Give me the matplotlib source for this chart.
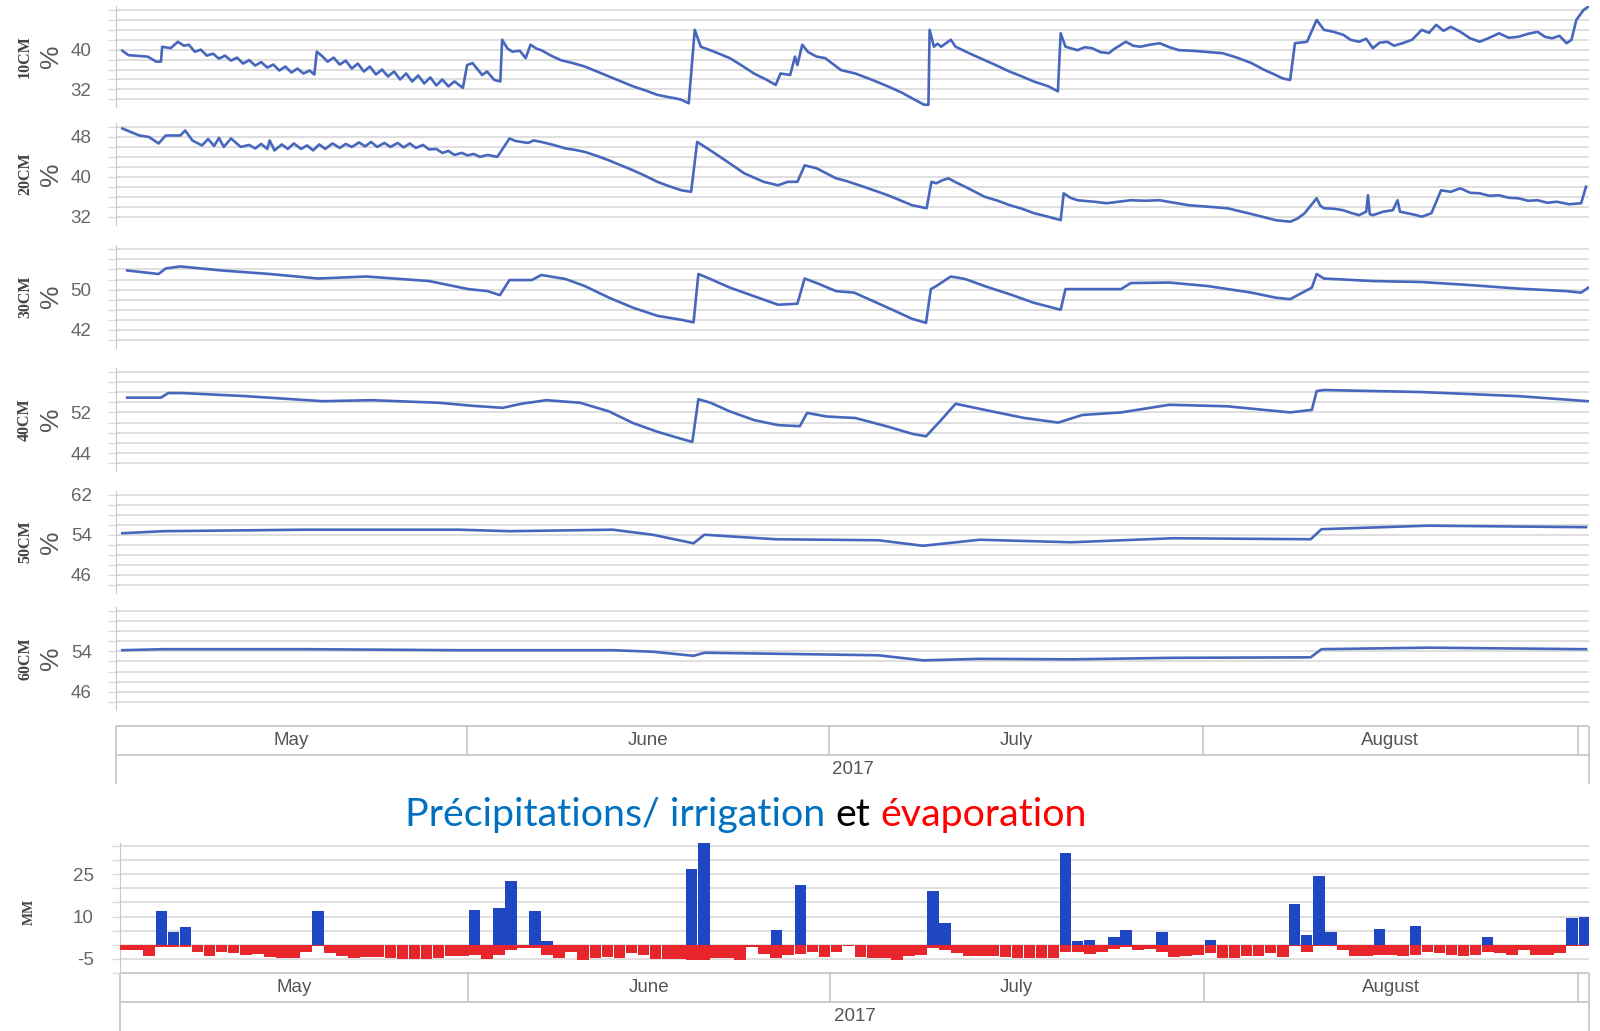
import matplotlib
matplotlib.use("Agg")
import matplotlib.pyplot as plt
import numpy as np

# ---------------- data (days counted from 1 May 2017 = 0) ----------------
day10 = [2.5, 3.0, 4.6, 5.3, 5.7, 5.8, 6.5, 7.1, 7.6, 8.0, 8.5, 9.0, 9.5, 10.0, 10.5, 11.0, 11.5, 12.0,
         12.5, 13.0, 13.5, 14.0, 14.5, 15.0, 15.5, 16.0, 16.5, 17.0, 17.5, 18.0, 18.4, 18.6, 19.0, 19.5,
         20.0, 20.5, 21.0, 21.5, 22.0, 22.5, 23.0, 23.5, 24.0, 24.5, 25.0, 25.5, 26.0, 26.5, 27.0, 27.5,
         28.0, 28.5, 29.0, 29.5, 30.0, 30.7, 31.05, 31.5, 32.3, 32.7, 33.3, 33.8, 33.95, 34.4, 34.8, 35.4,
         35.9, 36.3, 36.8, 37.2, 38.0, 38.8, 39.8, 40.8, 41.8, 42.8, 43.8, 44.8, 45.8, 46.8, 47.8, 48.3,
         48.8, 49.4, 49.9, 50.4, 51.5, 52.8, 53.8, 54.8, 55.8, 56.6, 57.0, 57.8, 58.2, 58.4, 58.8, 59.3,
         60.0, 60.7, 62.0, 63.2, 64.5, 65.9, 67.0, 67.9, 68.9, 69.25, 69.35, 69.7, 70.0, 70.3, 70.7, 71.1,
         71.5, 72.7, 73.9, 75.0, 75.96, 77.0, 77.96, 79.2, 79.97, 80.2, 80.6, 81.6, 82.2, 82.8, 83.5, 84.2,
         84.6, 85.6, 86.2, 86.8, 87.6, 88.4, 89.2, 90.0, 91.0, 92.0, 93.6, 94.8, 96.0, 97.0, 98.0, 98.6,
         99.2, 99.6, 100.6, 101.4, 102.0, 102.8, 103.6, 104.2, 104.9, 105.5, 106.05, 106.6, 107.25, 107.8,
         108.5, 109.3, 110.1, 110.7, 111.3, 111.9, 112.5, 113.3, 114.1, 114.9, 115.7, 116.5, 117.3, 118.1,
         118.9, 119.7, 120.3, 120.9, 121.5, 122.1, 122.5, 122.9, 123.5, 123.9]
m10 = [39.8, 38.9, 38.6, 37.6, 37.6, 40.6, 40.3, 41.6, 40.8, 41.0, 39.6, 40.0, 38.8, 39.2, 38.2, 38.8, 37.8, 38.4,
       37.2, 37.9, 36.8, 37.5, 36.4, 37.0, 35.8, 36.6, 35.4, 36.2, 35.2, 35.8, 35.0, 39.6, 38.8, 37.6,
       38.4, 37.0, 37.8, 36.2, 37.2, 35.6, 36.6, 35.0, 36.0, 34.6, 35.6, 34.0, 35.2, 33.6, 34.8, 33.2,
       34.4, 32.8, 34.0, 32.6, 33.6, 32.3, 36.9, 37.3, 34.9, 35.6, 33.9, 33.6, 42.0, 40.2, 39.6, 39.8,
       38.3, 41.0, 40.2, 39.9, 38.8, 37.9, 37.3, 36.6, 35.6, 34.6, 33.6, 32.6, 31.8, 30.9, 30.4, 30.2,
       29.9, 29.2, 44.0, 40.6, 39.6, 38.3, 36.8, 35.2, 34.0, 32.9, 35.2, 34.9, 38.6, 36.9, 41.0, 39.5,
       38.6, 38.3, 35.9, 35.2, 34.0, 32.6, 31.4, 30.2, 28.9, 28.9, 44.0, 40.6, 41.2, 40.6, 41.3, 42.0,
       40.6, 39.2, 37.9, 36.7, 35.6, 34.6, 33.6, 32.6, 31.6, 43.3, 40.6, 39.9, 40.5, 40.3, 39.5, 39.3,
       40.1, 41.6, 40.8, 40.6, 41.0, 41.3, 40.5, 39.9, 39.8, 39.6, 39.3, 38.4, 37.3, 36.0, 34.9, 34.2,
       33.9, 41.3, 41.6, 46.0, 44.0, 43.6, 43.0, 42.0, 41.6, 42.2, 40.3, 41.4, 41.6, 40.8,
       41.3, 42.0, 44.0, 43.4, 45.0, 43.8, 44.6, 43.6, 42.3, 41.6, 42.4, 43.3, 42.4, 42.6,
       43.2, 43.6, 42.6, 42.3, 42.8, 41.3, 42.0, 46.0, 48.0, 48.7]

day20 = [2.5, 3.9, 4.7, 5.5, 6.1, 7.3, 7.7, 8.3, 9.1, 9.6, 10.1, 10.5, 10.9, 11.5, 12.3, 13.0, 13.5, 14.0,
         14.5, 14.7, 15.1, 15.7, 16.2, 16.7, 17.3, 17.8, 18.3, 18.8, 19.3, 19.9, 20.5, 21.0, 21.5, 22.1,
         22.6, 23.1, 23.6, 24.2, 24.7, 25.3, 25.8, 26.3, 26.8, 27.4, 27.9, 28.5, 29.0, 29.5, 30.0, 30.6,
         31.1, 31.6, 32.1, 32.75, 33.55, 34.56, 35.05, 35.55, 36.1, 36.56, 37.2, 38.2, 39.2, 40.0, 40.8,
         41.8, 42.8, 43.8, 44.8, 45.8, 46.8, 47.8, 48.8, 49.6, 50.1, 51.2, 52.0, 52.8, 54.0, 55.6, 56.8,
         57.6, 58.4, 59.0, 60.0, 61.6, 62.4, 63.9, 65.9, 67.9, 69.1, 69.5, 69.9, 70.4, 70.9, 71.6, 72.3,
         73.9, 75.0, 76.0, 77.0, 78.0, 79.0, 80.2, 80.45, 81.0, 81.6, 83.0, 84.0, 85.0, 86.0, 87.2, 88.4,
         89.6, 90.8, 92.4, 94.0, 95.2, 96.4, 98.0, 99.2, 99.8, 100.4, 101.4, 101.7, 102.0, 102.8, 103.6,
         104.2, 104.9, 105.5, 105.65, 105.8, 106.05, 106.9, 107.7, 108.1, 108.3, 108.9, 109.5, 110.1,
         110.9, 111.7, 112.5, 113.3, 114.1, 114.9, 115.7, 116.5, 117.3, 118.1, 118.9, 119.7, 120.5,
         121.3, 122.3, 123.3, 123.7]
m20 = [49.7, 48.3, 48.0, 46.7, 48.3, 48.3, 49.3, 47.3, 46.3, 47.6, 46.2, 47.8, 46.0, 47.7, 46.0, 46.4, 45.7, 46.6,
       45.6, 47.3, 45.3, 46.5, 45.6, 46.7, 45.6, 46.3, 45.3, 46.5, 45.6, 46.7, 45.8, 46.6, 46.0, 46.9,
       46.1, 47.0, 46.0, 46.8, 46.0, 46.8, 45.9, 46.7, 45.8, 46.4, 45.5, 45.6, 44.8, 45.2, 44.4, 44.8,
       44.3, 44.6, 44.0, 44.4, 44.0, 47.7, 47.2, 47.0, 46.8, 47.3, 47.0, 46.4, 45.7, 45.4, 45.0,
       44.2, 43.3, 42.3, 41.3, 40.2, 39.0, 38.1, 37.3, 37.0, 47.0, 45.3, 44.0, 42.7, 40.7, 39.0, 38.3,
       39.0, 39.0, 42.3, 41.7, 39.7, 39.2, 38.0, 36.3, 34.3, 33.7, 39.0, 38.7, 39.3, 39.7, 38.8, 38.0,
       36.0, 35.2, 34.3, 33.6, 32.7, 32.1, 31.3, 36.7, 35.8, 35.3, 35.0, 34.7, 35.0, 35.3, 35.2, 35.3,
       34.8, 34.3, 34.0, 33.7, 33.0, 32.3, 31.3, 31.0, 31.6, 32.7, 35.7, 34.2, 33.7, 33.6, 33.3,
       32.8, 32.3, 33.0, 36.3, 32.5, 32.3, 33.0, 33.3, 35.3, 33.0, 32.7, 32.4, 32.0,
       32.7, 37.3, 37.0, 37.7, 36.8, 36.7, 36.2, 36.3, 35.8, 35.7, 35.2, 35.3, 34.8,
       35.0, 34.5, 34.7, 38.0]

day30 = [2.9, 5.5, 6.1, 7.3, 10.7, 14.7, 18.7, 22.7, 27.9, 31.15, 32.75, 33.76, 34.56, 36.4, 37.2, 39.2,
         40.8, 42.8, 44.8, 46.8, 48.8, 49.8, 50.2, 51.2, 52.8, 54.8, 56.8, 58.4, 59.0, 60.0, 61.6, 63.1,
         65.9, 67.9, 69.05, 69.45, 69.9, 71.1, 72.3, 73.9, 75.96, 77.96, 80.2, 80.6, 82.0, 85.2, 86.0,
         89.2, 92.4, 96.0, 98.0, 99.2, 101.0, 101.4, 102.0, 106.05, 110.1, 114.1, 118.1, 122.1, 123.3, 123.9]
m30 = [53.8, 53.1, 54.2, 54.6, 53.8, 53.1, 52.2, 52.6, 51.7, 50.1, 49.7, 48.9, 51.9, 51.9, 52.9, 52.1,
       50.7, 48.4, 46.4, 44.8, 44.0, 43.5, 53.1, 52.1, 50.4, 48.7, 47.0, 47.2, 52.2, 51.3, 49.7, 49.4,
       46.4, 44.2, 43.4, 50.1, 50.7, 52.6, 52.1, 50.7, 49.1, 47.4, 46.0, 50.1, 50.1, 50.1, 51.3,
       51.4, 50.7, 49.4, 48.4, 48.1, 50.4, 53.1, 52.2, 51.7, 51.5, 50.9, 50.2, 49.7, 49.4, 50.4]

day40 = [2.9, 5.7, 6.3, 7.5, 12.7, 19.1, 23.1, 28.7, 31.5, 34.0, 35.55, 37.6, 40.4, 42.8, 44.8, 46.8,
         48.8, 49.7, 50.2, 51.2, 52.8, 54.8, 56.8, 58.6, 59.2, 60.8, 63.2, 65.9, 67.9, 69.05, 70.3, 71.5,
         73.9, 77.2, 80.0, 82.0, 85.2, 89.2, 94.0, 99.2, 101.0, 101.4, 102.0, 110.1, 118.1, 123.9]
m40 = [54.9, 54.9, 55.8, 55.8, 55.2, 54.2, 54.4, 53.9, 53.3, 52.9, 53.7, 54.4, 53.9, 52.2, 49.9, 48.2,
       46.8, 46.2, 54.6, 53.9, 52.2, 50.5, 49.5, 49.3, 51.9, 51.2, 50.9, 49.2, 47.8, 47.3, 50.5, 53.7,
       52.5, 50.9, 50.0, 51.5, 52.0, 53.5, 53.2, 52.0, 52.5, 56.2, 56.4, 56.0, 55.2, 54.2]

day50 = [2.5, 5.9, 17.7, 30.4, 34.6, 43.1, 46.4, 49.8, 50.7, 56.6, 65.1, 68.8, 73.5, 81.1, 89.5, 100.9,
         101.8, 110.6, 123.7]
m50 = [54.3, 54.7, 55.0, 55.0, 54.7, 55.0, 54.0, 52.3, 54.0, 53.1, 52.9, 51.8, 53.0, 52.5, 53.3, 53.1,
       55.1, 55.8, 55.5]

day60 = [2.5, 5.9, 17.7, 30.4, 43.1, 46.4, 49.8, 50.7, 56.6, 65.1, 68.8, 73.5, 81.1, 89.5, 100.9,
         101.8, 110.6, 123.7]
m60 = [54.2, 54.4, 54.4, 54.2, 54.2, 53.9, 53.1, 53.7, 53.5, 53.2, 52.2, 52.5, 52.4, 52.7, 52.8,
       54.4, 54.7, 54.4]

ticks10 = [32, 40]
ticks20 = [32, 40, 48]
ticks30 = [42, 50]
ticks40 = [44, 52]
ticks50 = [46, 54, 62]
ticks60 = [46, 54]
depth_labels = ["10CM", "20CM", "30CM", "40CM", "50CM", "60CM"]

rain_day = [5, 6, 7, 18, 31, 33, 34, 36, 37, 49, 50, 56, 58, 69, 70, 80, 81, 82, 84, 85, 88, 92,
            99, 100, 101, 102, 106, 109, 115, 122, 123]
rain_mm = [12.1, 4.7, 6.2, 12.1, 12.4, 12.9, 22.7, 11.8, 1.2, 26.7, 36.0, 5.3, 21.2, 19.2, 7.6, 32.4,
           1.2, 1.8, 2.7, 5.1, 4.7, 1.8, 14.5, 3.5, 24.4, 4.7, 5.5, 6.7, 2.7, 9.4, 10.0]

evap_first_day = 2
evap_mm = [-2.0, -2.0, -3.9, -0.8, -0.8, -0.8, -2.7, -4.1, -2.4, -2.9, -3.5, -3.2, -4.4, -4.7, -4.7,
           -2.7, -0.6, -2.9, -3.9, -4.7, -4.4, -4.4, -4.7, -5.1, -5.1, -5.1, -4.7, -3.9, -4.1, -3.5,
           -5.1, -3.5, -2.0, -1.2, -1.2, -3.5, -4.7, -2.4, -5.3, -4.7,
           -4.4, -4.7, -2.9, -3.5, -5.1, -5.1, -5.1, -5.3, -5.5, -4.7, -4.7, -5.3, -0.8, -3.2, -4.7,
           -3.5, -3.2, -2.7, -4.4, -2.4, -0.4, -4.4, -4.7, -4.7, -5.3, -4.1, -3.5, -1.2, -1.8, -2.9,
           -4.1, -4.1, -4.1, -4.4, -4.7, -4.7, -4.7, -4.7, -2.4, -2.4, -3.2,
           -2.4, -1.5, -0.8, -1.8, -1.5, -2.4, -4.4, -4.1, -3.5, -2.9, -4.7, -4.7, -4.1, -4.1, -2.9,
           -4.4, -0.4, -2.4, -0.4, -0.4, -1.8, -4.1, -4.1, -3.5, -3.5, -4.1, -3.5, -2.7, -2.9, -3.5,
           -3.9, -3.5, -2.4, -2.9, -3.5, -1.8, -3.5, -3.5, -2.9, -0.6, -0.6]
bar_ticks = [-5, 10, 25]

month_names = ["May", "June", "July", "August"]
month_start = [0, 31, 61, 92, 123]
year_label = "2017"

title_parts = ["Précipitations/ irrigation", "et", "évaporation"]

# ---------------- styling / layout ----------------
W, H = 1600, 1031
fig = plt.figure(figsize=(16, 10.31), dpi=100)
fig.patch.set_facecolor("white")

GRID = "#dcdcdc"
AXIS = "#c8c8c8"
LINE = "#4767bd"
TXT = "#666666"
SANS = ["Liberation Sans", "DejaVu Sans"]
SERIF = ["Liberation Serif", "DejaVu Serif"]


def rect(x0, y0, x1, y1):
    return [x0 / W, 1 - y1 / H, (x1 - x0) / W, (y1 - y0) / H]


X0, X1 = 116.3, 1589.0
XMIN, XMAX = 2.0, 123.95
PX = 0.72  # points per pixel

panels = [
    (depth_labels[0], day10, m10, 30, 48, ticks10, 10.0, 99.3),
    (depth_labels[1], day20, m20, 32, 50, ticks20, 127.0, 216.7),
    (depth_labels[2], day30, m30, 40, 58, ticks30, 249.3, 340.0),
    (depth_labels[3], day40, m40, 42, 60, ticks40, 371.7, 463.3),
    (depth_labels[4], day50, m50, 44, 62, ticks50, 494.5, 585.0),
    (depth_labels[5], day60, m60, 44, 62, ticks60, 610.6, 702.0),
]

for name, dd, vv, lo, hi, tl, yt, yb in panels:
    scale = (yb - yt) / (hi - lo)
    top_px, bot_px = yt - 4, yb + 8
    ax = fig.add_axes(rect(X0, top_px, X1, bot_px))
    ax.set_xlim(XMIN, XMAX)
    ax.set_ylim(lo - 8 / scale, hi + 4 / scale)
    grid = np.arange(lo, hi + 1, 2)
    ax.set_yticks(grid)
    ax.set_yticklabels([str(g) if g in tl else "" for g in grid], family=SANS)
    ax.tick_params(axis="y", length=8 * PX, color=GRID, width=1.0, labelsize=13.5,
                   labelcolor=TXT, pad=12)
    ax.grid(axis="y", color=GRID, lw=1.3)
    ax.set_xticks([])
    for s in ["top", "right", "bottom"]:
        ax.spines[s].set_visible(False)
    ax.spines["left"].set_color(AXIS)
    ax.set_axisbelow(True)
    ax.plot(dd, vv, color=LINE, lw=1.9, solid_joinstyle="round")
    cy = (top_px + bot_px) / 2
    fig.text(25 / W, 1 - cy / H, name, rotation=90, ha="center", va="center",
             family=SERIF, weight="bold", fontsize=11.5, color="#444444")
    fig.text(51 / W, 1 - cy / H, "%", rotation=90, ha="center", va="center",
             family=SANS, fontsize=19, color="#555555")


def date_strip(x0, y0, y1, xmin, xmax):
    ax = fig.add_axes(rect(x0, y0, X1, y1))
    ax.set_xlim(xmin, xmax)
    ax.set_ylim(0, 2)
    ax.axis("off")
    kw = dict(color=AXIS, lw=1.3, clip_on=False, solid_capstyle="butt")
    ax.plot([xmin, xmax], [2, 2], **kw)
    ax.plot([xmin, xmax], [1, 1], **kw)
    ax.plot([xmin, xmin], [0, 2], **kw)
    ax.plot([xmax, xmax], [0, 2], **kw)
    for s in month_start:
        if xmin < s < xmax:
            ax.plot([s, s], [1, 2], **kw)
    for i, nm in enumerate(month_names):
        a = max(month_start[i], xmin)
        b = min(month_start[i + 1], xmax)
        ax.text((a + b) / 2, 1.5, nm, ha="center", va="center", family=SANS,
                fontsize=13.5, color="#555555")
    ax.text((xmin + xmax) / 2, 0.5, year_label, ha="center", va="center", family=SANS,
            fontsize=13.5, color="#555555")


date_strip(X0, 725.5, 784.0, XMIN, XMAX)

# ---------------- bar chart ----------------
BX0 = 120.0
BXMIN = 2.13
bax = fig.add_axes(rect(BX0, 843.0, X1, 973.0))
bax.set_xlim(BXMIN, XMAX)
bax.set_ylim(-10, 36.05)
evap_days = np.arange(evap_first_day, evap_first_day + len(evap_mm))
bax.bar(evap_days + 0.55, evap_mm, width=0.97, color="#e8252a", linewidth=0, zorder=3)
bax.bar(np.array(rain_day) + 0.55, rain_mm, width=0.94, color="#1f47c4", linewidth=0, zorder=3)
bgrid = np.arange(-10, 36, 5)
bax.set_yticks(bgrid)
bax.set_yticklabels([str(g) if g in bar_ticks else "" for g in bgrid], family=SANS)
bax.tick_params(axis="y", length=8 * PX, color=GRID, width=1.0, labelsize=13.5,
                labelcolor=TXT, pad=13)
bax.grid(axis="y", color=GRID, lw=1.3)
bax.set_axisbelow(True)
bax.set_xticks([])
for s in ["top", "right", "bottom"]:
    bax.spines[s].set_visible(False)
bax.spines["left"].set_color(AXIS)
fig.text(29 / W, 1 - 912 / H, "MM", rotation=90, ha="center", va="center",
         family=SERIF, weight="bold", fontsize=10, color="#444444")

date_strip(BX0, 972.5, 1031.0, BXMIN, XMAX)

# ---------------- title (three colours) ----------------
TFONT = ["Lato", "DejaVu Sans"]
r = fig.canvas.get_renderer()


def tw(s, fs):
    t = fig.text(0, 0, "|" + s + "|", fontsize=fs, family=TFONT)
    t2 = fig.text(0, 0, "||", fontsize=fs, family=TFONT)
    w = t.get_window_extent(r).width - t2.get_window_extent(r).width
    t.remove()
    t2.remove()
    return w


full = title_parts[0] + " " + title_parts[1] + " " + title_parts[2]
target_w = 1085 - 405
fs = 26.0 * target_w / tw(full, 26.0)
left = 405.0
base = 826.0
xs = [left,
      left + tw(title_parts[0] + " ", fs),
      left + tw(title_parts[0] + " " + title_parts[1] + " ", fs)]
cols = ["#0070C0", "#000000", "#FF0000"]
for s, x, c in zip(title_parts, xs, cols):
    fig.text(x / W, 1 - base / H, s, fontsize=fs, family=TFONT, color=c,
             ha="left", va="baseline")

fig.savefig("out.png", dpi=100, facecolor="white")
